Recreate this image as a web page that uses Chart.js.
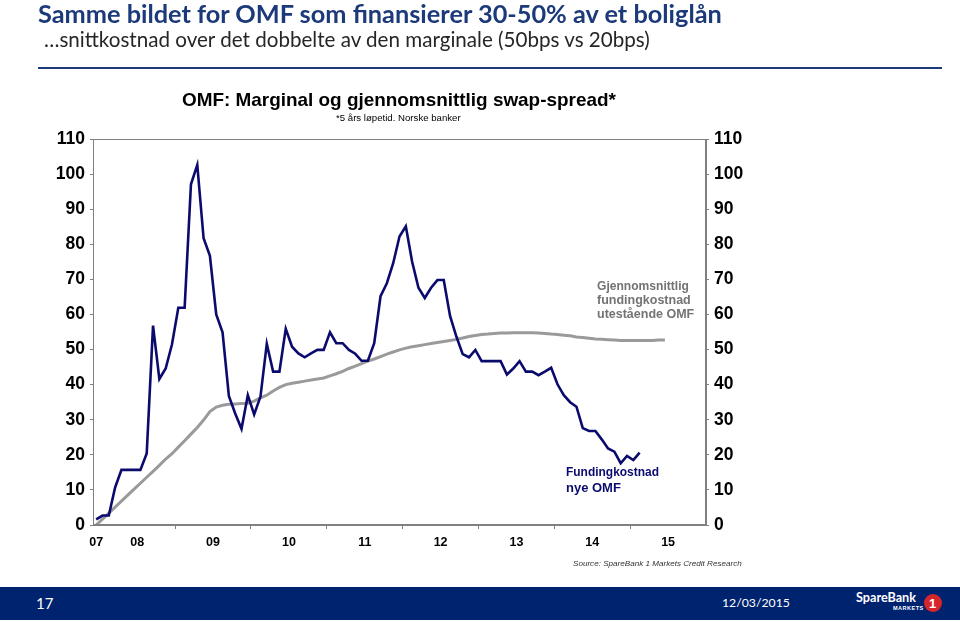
<!DOCTYPE html>
<html><head><meta charset="utf-8">
<script src="https://cdn.jsdelivr.net/npm/chart.js@4"></script>
<style>
html,body{margin:0;padding:0;background:#fff;width:960px;height:622px;overflow:hidden;}
#wrap{position:relative;width:960px;height:622px;}
canvas{position:absolute;left:0;top:0;}
.t{position:absolute;white-space:nowrap;line-height:1;}
.ar{font-family:"Liberation Sans",Arial,sans-serif;}
.cal{font-family:Lato,"Open Sans",sans-serif;}
</style></head><body>
<div id="wrap">
<canvas id="c" width="960" height="622"></canvas>
<div class="t cal fit" data-w="684" style="left:38px;top:1px;font-weight:bold;font-size:26px;color:#1c3a7a">Samme bildet for OMF som finansierer 30-50% av et boliglån</div>
<div class="t cal fit" data-w="606" style="left:44px;top:29px;font-size:22px;color:#262626">…snittkostnad over det dobbelte av den marginale (50bps vs 20bps)</div>
<div style="position:absolute;left:38px;top:67px;width:904px;height:2px;background:#1c3a7a"></div>
<div class="t ar fit" data-w="434" style="left:182px;top:91px;font-weight:bold;font-size:18px;color:#000">OMF: Marginal og gjennomsnittlig swap-spread*</div>
<div class="t ar fit" data-w="125" style="left:336px;top:113px;font-size:10px;color:#000">*5 års løpetid. Norske banker</div>
<div class="t ar fit" data-w="92" style="left:597px;top:279px;font-weight:bold;font-size:12.5px;color:#737373;line-height:14px">Gjennomsnittlig</div>
<div class="t ar" style="left:597px;top:293px;font-weight:bold;font-size:12.5px;color:#737373;line-height:14px">fundingkostnad</div>
<div class="t ar" style="left:597px;top:307px;font-weight:bold;font-size:12.5px;color:#737373;line-height:14px">utestående OMF</div>
<div class="t ar fit" data-w="93" style="left:566px;top:465px;font-weight:bold;font-size:13px;color:#0b0b6e;line-height:15px">Fundingkostnad</div>
<div class="t ar" style="left:566px;top:480px;font-weight:bold;font-size:13px;color:#0b0b6e;line-height:15px">nye OMF</div>
<div class="t ar fit" data-w="169" style="left:573px;top:560px;font-style:italic;font-size:9.5px;color:#333">Source: SpareBank 1 Markets Credit Research</div>
<div style="position:absolute;left:0;top:587px;width:960px;height:33px;background:#00236f"></div>
<div class="t cal" style="left:36px;top:596px;font-size:15px;color:#fff">17</div>
<div class="t cal fit" data-w="68" style="left:722px;top:597px;font-size:15px;color:#fff">12/03/2015</div>
<div class="t cal fit" data-w="60" style="left:856px;top:592px;font-weight:bold;font-size:16px;color:#fff">SpareBank</div>
<div class="t ar" style="left:893px;top:606px;font-weight:bold;font-size:5.5px;color:#fff;letter-spacing:0.5px">MARKETS</div>
<div style="position:absolute;left:924px;top:594px;width:18px;height:18px;border-radius:50%;background:#d7262b"></div>
<div class="t ar" style="left:929px;top:597px;font-weight:bold;font-size:13px;color:#fff">1</div>
</div>
<script>
// Marginal funding cost, new OMF (monthly, first point Dec 2007)
const blueValues = [1.6,2.7,2.7,10.7,15.7,15.7,15.7,15.7,20.4,56.8,41.6,44.6,51.5,61.9,61.9,97.1,102.6,81.7,76.7,60,54.9,36.8,31.8,27.4,37,31.5,36.6,51.6,43.7,43.7,55.9,50.8,48.9,47.8,48.9,49.9,49.9,54.9,51.8,51.8,49.9,48.8,46.8,46.8,51.8,65.2,68.9,74.6,82.2,85.1,75,67.6,64.7,67.6,69.8,69.8,59.6,53.7,48.7,47.8,49.9,46.7,46.7,46.7,46.7,42.9,44.6,46.7,43.7,43.7,42.7,43.7,44.8,40.1,37,35,33.7,27.6,26.8,26.8,24.4,21.8,20.9,17.6,19.7,18.5,20.6];
// Average funding cost, outstanding OMF (monthly, first point Dec 2007)
const grayValues = [0,1.7,3.4,5.1,6.8,8.5,10.2,11.9,13.6,15.3,17.0,18.8,20.3,22.2,24.0,25.9,27.8,29.9,32.3,33.6,34.1,34.4,34.5,34.6,34.7,35.3,36.2,37.0,38.2,39.2,40.0,40.4,40.7,41.0,41.3,41.6,41.9,42.5,43.1,43.8,44.6,45.3,46.0,46.7,47.3,48.0,48.7,49.3,49.9,50.4,50.8,51.1,51.4,51.7,52.0,52.3,52.6,52.9,53.3,53.7,54.0,54.3,54.4,54.6,54.7,54.7,54.8,54.8,54.8,54.8,54.7,54.6,54.4,54.3,54.1,53.9,53.6,53.4,53.2,53.0,52.9,52.8,52.7,52.6,52.6,52.6,52.6,52.6,52.6,52.7,52.7];
const yearLabels = ['07','08','09','10','11','12','13','14','15'];
const yTickValues = [0,10,20,30,40,50,60,70,80,90,100,110];

// fit text widths
document.querySelectorAll('.fit').forEach(el=>{
  const w = el.getBoundingClientRect().width;
  const fs = parseFloat(getComputedStyle(el).fontSize);
  el.style.fontSize = (fs*(+el.dataset.w)/w).toFixed(2)+'px';
});

const toXY = arr => arr.map((v,i)=>({x:i,y:v}));
// month index 0 = Dec 2007; axis spans Dec 2007 .. Dec 2015
const labelPos = yearLabels.map((l,k)=>Math.max(0,12*k-5.5));
const boundaryPos = yearLabels.slice(2).map((l,k)=>12*(k+1)+0.5);

const axisFont = {family:'"Liberation Sans", Arial, sans-serif', weight:'bold', size:17.5};
function yAxis(pos, width){
  return {
    position: pos, min:0, max:110,
    afterBuildTicks: s=>{ s.ticks = yTickValues.map(v=>({value:v})); },
    afterFit: s=>{ s.width = width; },
    ticks:{font:axisFont, color:'#000', padding:5},
    grid:{drawOnChartArea:false, tickLength:3, color:'#808080'},
    border:{color:'#808080'}
  };
}
const framePlugin = {
  id:'frame',
  afterDraw(chart){
    const a = chart.chartArea, ctx = chart.ctx;
    ctx.save(); ctx.strokeStyle='#808080'; ctx.lineWidth=1;
    ctx.strokeRect(Math.round(a.left)+0.5, Math.round(a.top)+0.5, Math.round(a.right-a.left)-1, Math.round(a.bottom-a.top)-1);
    ctx.restore();
  }
};

new Chart(document.getElementById('c'), {
  type:'line',
  data:{datasets:[
    {data:toXY(blueValues), borderColor:'#0b0b6e', borderWidth:2.6, pointRadius:0, tension:0},
    {data:toXY(grayValues), borderColor:'#9a9a9a', borderWidth:3, pointRadius:0, tension:0}
  ]},
  options:{
    responsive:false, animation:false, devicePixelRatio:1,
    layout:{padding:{left:0, right:194, top:139, bottom:67}},
    plugins:{legend:{display:false}, tooltip:{enabled:false}},
    scales:{
      x:{type:'linear', position:'bottom', min:-0.5, max:96.5,
         afterBuildTicks: s=>{ s.ticks = boundaryPos.map(v=>({value:v})); },
         afterFit: s=>{ s.height = 4; },
         ticks:{display:false},
         grid:{drawOnChartArea:false, tickLength:4, color:'#808080'},
         border:{color:'#808080'}},
      xl:{type:'linear', position:'bottom', min:-0.5, max:96.5,
         afterBuildTicks: s=>{ s.ticks = labelPos.map(v=>({value:v})); },
         afterFit: s=>{ s.height = 26; },
         ticks:{font:{family:'"Liberation Sans", Arial, sans-serif', weight:'bold', size:12.5}, color:'#000', padding:6, autoSkip:false, maxRotation:0,
                callback:(v,i)=>yearLabels[i]},
         grid:{display:false, drawTicks:false},
         border:{display:false}},
      y: yAxis('left', 93),
      y2: yAxis('right', 60)
    }
  },
  plugins:[framePlugin]
});
</script>
</body></html>
